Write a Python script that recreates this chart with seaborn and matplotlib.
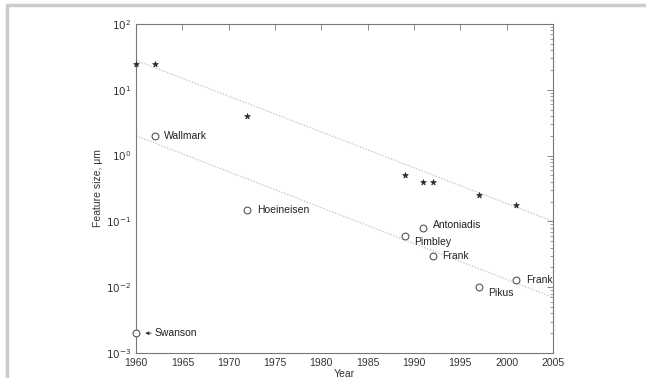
import numpy as np
import pandas as pd
import matplotlib
matplotlib.use("Agg")
import matplotlib.pyplot as plt
from matplotlib.lines import Line2D
import seaborn as sns

# published feature sizes (stars)
star_years = [1960, 1962, 1972, 1989, 1991, 1992, 1997, 2001]
star_sizes = [25, 25, 4, 0.5, 0.4, 0.4, 0.25, 0.18]

# device demonstrations (open circles)
circle_names = ["Wallmark", "Hoeineisen", "Antoniadis", "Pimbley", "Frank", "Pikus", "Frank", "Swanson"]
circle_years = [1962, 1972, 1991, 1989, 1992, 1997, 2001, 1960]
circle_sizes = [2.0, 0.15, 0.08, 0.06, 0.03, 0.01, 0.013, 0.002]

# trend lines (end points)
trend_years = [1960, 2005]
upper_trend = [28, 0.1]
lower_trend = [2.0, 0.007]

xticks = [1960, 1965, 1970, 1975, 1980, 1985, 1990, 1995, 2000, 2005]
yticks = [1e-3, 1e-2, 1e-1, 1e0, 1e1, 1e2]

sns.set_style("white")
plt.rcParams['font.family'] = ['Liberation Sans', 'DejaVu Sans']

fig = plt.figure(figsize=(6.46, 3.78), dpi=100)
ax = fig.add_axes([136 / 646, 1 - 353 / 378, 417 / 646, 329 / 378])

trend_df = pd.DataFrame({"year": trend_years * 2,
                         "size": upper_trend + lower_trend,
                         "fit": ["upper"] * 2 + ["lower"] * 2})
sns.lineplot(data=trend_df, x="year", y="size", units="fit", estimator=None,
             color="#c8c8c8", lw=0.9, ls=(0, (1.2, 1.2)), ax=ax)

star_df = pd.DataFrame({"year": star_years, "size": star_sizes})
sns.scatterplot(data=star_df, x="year", y="size", marker="*", s=18,
                color="#2a2a2a", edgecolor="#2a2a2a", linewidth=0.5, ax=ax, zorder=3)

circ_df = pd.DataFrame({"year": circle_years, "size": circle_sizes, "name": circle_names})
sns.scatterplot(data=circ_df, x="year", y="size", marker="o", s=24,
                facecolor="white", edgecolor="#555555", linewidth=0.8, ax=ax, zorder=3)
for coll in ax.collections:
    coll.set_clip_on(False)

# label offsets in points (dx, dy)
offsets = {"Wallmark": (7, 0), "Hoeineisen": (7, 0), "Antoniadis": (7, 2),
           "Pimbley": (7, -4), "Pikus": (7, -4)}
for name, yr, sz in zip(circle_names, circle_years, circle_sizes):
    if name == "Swanson":
        ax.annotate("Swanson", xy=(yr + 1.0, sz), xytext=(yr + 2.0, sz),
                    fontsize=7.5, color="#222222", va="center", ha="left",
                    arrowprops=dict(arrowstyle="-|>", lw=0.6, color="#333333",
                                    mutation_scale=5, shrinkA=0, shrinkB=0))
        continue
    dx, dy = offsets.get(name, (7, 0))
    ax.annotate(name, xy=(yr, sz), xytext=(dx, dy), textcoords="offset points",
                fontsize=7.5, color="#222222", va="center", ha="left")

ax.set_yscale("log")
ax.set_xlim(1960, 2005)
ax.set_ylim(1e-3, 1e2)
ax.set_xticks(xticks)
ax.set_xticklabels([str(t) for t in xticks])
ax.set_yticks(yticks)
ax.set_yticklabels([r"$10^{%d}$" % int(np.log10(t)) for t in yticks])
ax.minorticks_on()
ax.xaxis.set_minor_locator(matplotlib.ticker.NullLocator())
ax.tick_params(which="both", direction="in", top=True, right=True,
               colors="#777777", labelcolor="#333333", labelsize=7.5)
ax.tick_params(which="major", length=4, width=0.6)
ax.tick_params(which="minor", length=2, width=0.5)
for sp in ax.spines.values():
    sp.set_color("#777777")
    sp.set_linewidth(0.8)

ax.set_xlabel("Year", fontsize=7.5, color="#333333", labelpad=1)
ax.set_ylabel("Feature size, \u03bcm", fontsize=7.5, color="#333333", labelpad=2)

# light gray frame round the picture (top and left only)
fig.add_artist(Line2D([7 / 646, 1], [1 - 5 / 378, 1 - 5 / 378], color="#cccccc", lw=2.5,
                      transform=fig.transFigure))
fig.add_artist(Line2D([7 / 646, 7 / 646], [0, 1 - 5 / 378], color="#cccccc", lw=2.5,
                      transform=fig.transFigure))

fig.savefig("out.png", dpi=100)
